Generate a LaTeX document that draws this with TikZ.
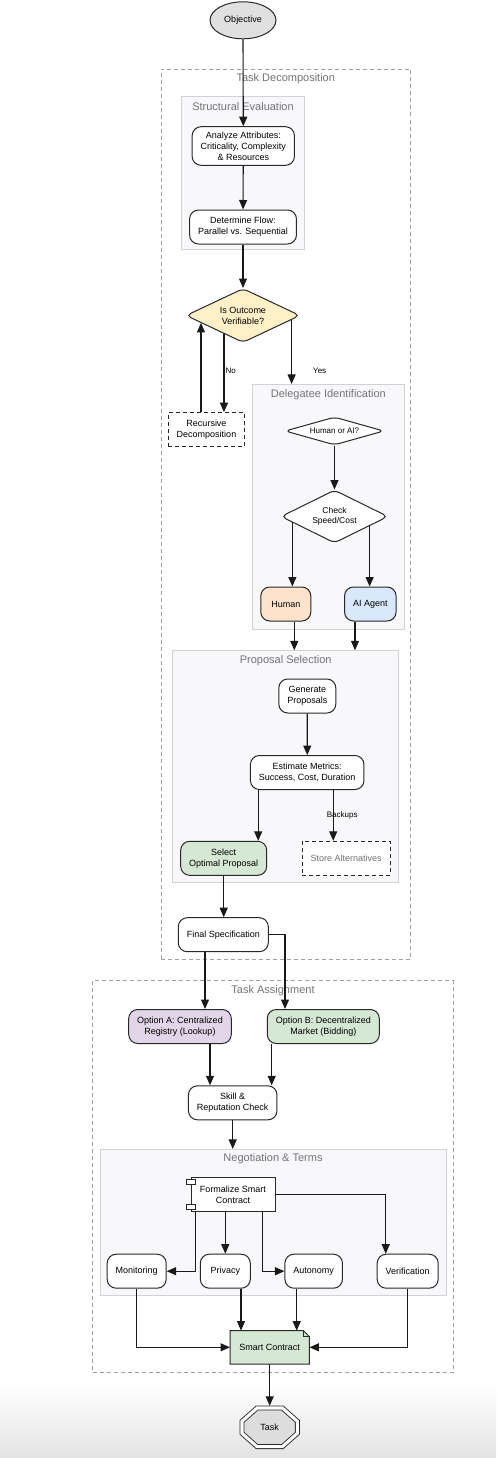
\documentclass[tikz,border=0pt]{standalone}
\usepackage{fontspec}
\setmainfont{Liberation Sans}
\usetikzlibrary{positioning,fit,calc,shapes.geometric,arrows.meta}
\usepackage{xcolor}
\definecolor{edgegray}{RGB}{40,40,40}
\definecolor{clustergray}{RGB}{160,160,160}
\definecolor{clusterfill}{RGB}{248,247,250}
\definecolor{clusterline}{RGB}{210,210,212}
\definecolor{labelgray}{RGB}{115,115,118}
\definecolor{startgray}{RGB}{224,224,224}
\definecolor{decideyellow}{RGB}{255,240,200}
\definecolor{humanpeach}{RGB}{253,226,204}
\definecolor{agentblue}{RGB}{218,232,252}
\definecolor{pickgreen}{RGB}{213,232,212}
\definecolor{registrylilac}{RGB}{225,213,231}
\definecolor{taskgray}{RGB}{221,221,221}

\begin{document}
\begin{tikzpicture}[
    x=1pt, y=-1pt,
    font=\fontsize{9}{11}\selectfont,
    stepbox/.style={rectangle, rounded corners=9pt, draw=edgegray, fill=white,
                    minimum width=50pt, minimum height=34pt, inner xsep=8.5pt, inner ysep=5pt,
                    align=center, line width=1pt},
    loopbox/.style={rectangle, draw=edgegray, fill=white, dash pattern=on 4pt off 3pt,
                    minimum height=34pt, inner xsep=8.5pt, inner ysep=5pt,
                    align=center, line width=1pt},
    decision/.style={diamond, rounded corners=5pt, draw=edgegray, fill=white,
                     shape aspect=2, inner sep=0pt, align=center, line width=1pt},
    startnode/.style={ellipse, draw=edgegray, fill=startgray, minimum width=66pt,
                      minimum height=37pt, inner sep=0pt, line width=1pt},
    componentbox/.style={rectangle, draw=edgegray, fill=white, minimum width=84pt,
                         minimum height=34pt, align=center, line width=1pt},
    notebox/.style={rectangle, fill=pickgreen, minimum width=79pt, minimum height=33pt,
                    inner sep=0pt},
    taskbox/.style={rectangle, minimum width=59.4pt, minimum height=42.6pt, inner sep=0pt},
    outercluster/.style={rectangle, draw=clustergray, fill=white, dash pattern=on 4pt off 3pt,
                         inner sep=0pt, line width=0.9pt},
    cluster/.style={rectangle, draw=clusterline, fill=clusterfill, inner sep=0pt, line width=0.8pt},
    clusterlabel/.style={font=\fontsize{11}{13}\selectfont, text=labelgray, inner sep=0pt},
    edgelabel/.style={font=\fontsize{8}{10}\selectfont, inner sep=1pt},
    arrow/.style={-{Triangle[length=9.5pt,width=8pt]}, line width=1.1pt, draw=black!90}
]

\useasboundingbox (0,0) rectangle (496,1458);
\fill[white] (0,0) rectangle (496,1458);
\shade[top color=white, bottom color=black!11] (0,1385) rectangle (496,1458);

\node[outercluster, fit={(161,69) (410.5,959)}] (td) {};
\node[outercluster, fit={(92.7,980.7) (453.3,1372)}] (ta) {};
\node[cluster, fit={(181.7,96.7) (304.3,249)}] (se) {};
\node[cluster, fit={(252.7,384.3) (404,629)}] (di) {};
\node[cluster, fit={(172.7,650.7) (398.7,882.3)}] (ps) {};
\node[cluster, fit={(100,1149.3) (446,1295)}] (nt) {};

\node[clusterlabel] (tdlabel) at ([yshift=-10pt]td.north) {Task Decomposition};
\node[clusterlabel] (selabel) at ([yshift=-10pt]se.north) {Structural Evaluation};
\node[clusterlabel] (dilabel) at ([yshift=-10.5pt]di.north) {Delegatee Identification};
\node[clusterlabel] (pslabel) at ([yshift=-10pt]ps.north) {Proposal Selection};
\node[clusterlabel] (talabel) at ([yshift=-10pt]ta.north) {Task Assignment};
\node[clusterlabel] (ntlabel) at ([yshift=-10pt]nt.north) {Negotiation \& Terms};

\node[startnode] (obj) at (243,20.3) {Objective};
\node[stepbox] (an) at (243.3,146) {Analyze Attributes:\\Criticality, Complexity\\\& Resources};
\node[stepbox] (df) at (243,227) {Determine Flow:\\Parallel vs. Sequential};
\node[decision, fill=decideyellow, minimum width=114pt, minimum height=54pt] (vf) at (243,315.5) {Is Outcome\\Verifiable?};
\node[loopbox] (rd) at (206.5,429.7) {Recursive\\Decomposition};

\node[decision, font=\fontsize{8}{10}\selectfont, shape aspect=3.5, minimum width=99pt, minimum height=28pt] (ha) at (334.5,431) {Human or AI?};
\node[decision, font=\fontsize{8.5}{10}\selectfont, minimum width=107pt, minimum height=53pt] (cs) at (334.5,516.5) {Check\\Speed/Cost};
\node[stepbox, fill=humanpeach] (hu) at (285.8,604) {Human};
\node[stepbox, fill=agentblue] (ai) at (370.3,604) {AI Agent};

\node[stepbox] (gp) at (307.3,696) {Generate\\Proposals};
\node[stepbox] (em) at (307.2,772.5) {Estimate Metrics:\\Success, Cost, Duration};
\node[stepbox, fill=pickgreen] (sel) at (223.7,858.3) {Select\\Optimal Proposal};
\node[loopbox, text=labelgray] (alt) at (346.2,858.3) {Store Alternatives};
\node[stepbox] (fs) at (223.3,934.7) {Final Specification};

\node[stepbox, fill=registrylilac] (oa) at (180,1026.5) {Option A: Centralized\\Registry (Lookup)};
\node[stepbox, fill=pickgreen] (ob) at (323.3,1026.5) {Option B: Decentralized\\Market (Bidding)};
\node[stepbox] (sr) at (232.7,1102.8) {Skill \&\\Reputation Check};

\node[componentbox] (fc) at (233,1194.3) {Formalize Smart\\Contract};
\draw[edgegray, fill=white, line width=0.7pt] ([xshift=-4.5pt,yshift=-3pt]fc.north west) rectangle ++(9pt,-4.5pt);
\draw[edgegray, fill=white, line width=0.7pt] ([xshift=-4.5pt,yshift=2.5pt]fc.south west) rectangle ++(9pt,4.5pt);
\node[stepbox] (mo) at (136.7,1271.2) {Monitoring};
\node[stepbox] (pr) at (225.3,1271.2) {Privacy};
\node[stepbox] (au) at (313.7,1271.2) {Autonomy};
\node[stepbox] (ve) at (407.7,1271.2) {Verification};

\node[notebox] (sc) at (269.7,1347.3) {Smart Contract};
\fill[white] ([xshift=-6pt]sc.north east) -- (sc.north east) -- ([yshift=-6pt]sc.north east) -- cycle;
\draw[edgegray, line width=1pt] (sc.south west) -- (sc.north west) -- ([xshift=-6pt]sc.north east)
    -- ([yshift=-6pt]sc.north east) -- (sc.south east) -- cycle;
\draw[edgegray, line width=0.5pt] ([xshift=-6pt]sc.north east) -- ([xshift=-6pt,yshift=-6pt]sc.north east)
    -- ([yshift=-6pt]sc.north east);

\coordinate (tkc) at (269.7,1427.3);
\draw[edgegray, line width=0.9pt, double=white, double distance=3.1pt, fill=taskgray]
    (tkc) ++(-12.7,-19.3) -- ++(25.4,0) -- ++(15,13.3) -- ++(0,12) -- ++(-15,13.3)
    -- ++(-25.4,0) -- ++(-15,-13.3) -- ++(0,-12) -- cycle;
\node[taskbox] (tk) at (tkc) {Task};

\draw[arrow] (obj.south) -- (an.north);
\draw[arrow] (an) -- (df);
\draw[arrow] (df) -- (vf);
\draw[arrow] (vf.224) -- (vf.224 |- rd.north) node[edgelabel, pos=0.47, right] (nolabel) {No};
\draw[arrow] (rd.north -| vf.190) -- (vf.190);
\draw[arrow] (vf.-5) -- (vf.-5 |- di.north) node[edgelabel, pos=0.8, right=20pt] (yeslabel) {Yes};

\draw[arrow] (ha) -- (cs);
\draw[arrow] (cs.188) -- (cs.188 |- hu.north);
\draw[arrow] (cs.-15) -- (cs.-15 |- ai.north);
\draw[arrow] ([xshift=8.5pt]hu.south) -- ([xshift=8.5pt]hu.south |- ps.north);
\draw[arrow] ([xshift=-15.3pt]ai.south) -- ([xshift=-15.3pt]ai.south |- ps.north);

\draw[arrow] (gp) -- (em);
\draw[arrow] ([xshift=-49pt]em.south) -- ([xshift=-49pt]em.south |- sel.north);
\draw[arrow] ([xshift=26pt]em.south) -- ([xshift=26pt]em.south |- alt.north)
    node[edgelabel, midway, xshift=9pt] (backlabel) {Backups};
\draw[arrow] (sel.south) -- (sel.south |- fs.north);

\draw[arrow] ([xshift=-18.3pt]fs.south) -- ([xshift=-18.3pt]fs.south |- oa.north);
\draw[arrow] (fs.east) -| ([xshift=-38.3pt]ob.north);
\draw[arrow] ([xshift=30pt]oa.south) -- ([xshift=30pt]oa.south |- sr.north);
\draw[arrow] ([xshift=-51.6pt]ob.south) -- ([xshift=-51.6pt]ob.south |- sr.north);
\draw[arrow] (sr.south) -- (sr.south |- nt.north);

\draw[arrow] ([xshift=-37.7pt]fc.south) |- (mo.east);
\draw[arrow] (pr.north |- fc.south) -- (pr.north);
\draw[arrow] ([xshift=29.7pt]fc.south) |- (au.west);
\draw[arrow] (fc.east) -| ([xshift=-22pt]ve.north);

\draw[arrow] (mo.south) |- (sc.west);
\draw[arrow] ([xshift=15.7pt]pr.south) -- ([xshift=15.7pt]pr.south |- sc.north);
\draw[arrow] ([xshift=-17pt]au.south) -- ([xshift=-17pt]au.south |- sc.north);
\draw[arrow] (ve.south) |- (sc.east);
\draw[arrow] (sc) -- (tk);

\end{tikzpicture}
\end{document}
